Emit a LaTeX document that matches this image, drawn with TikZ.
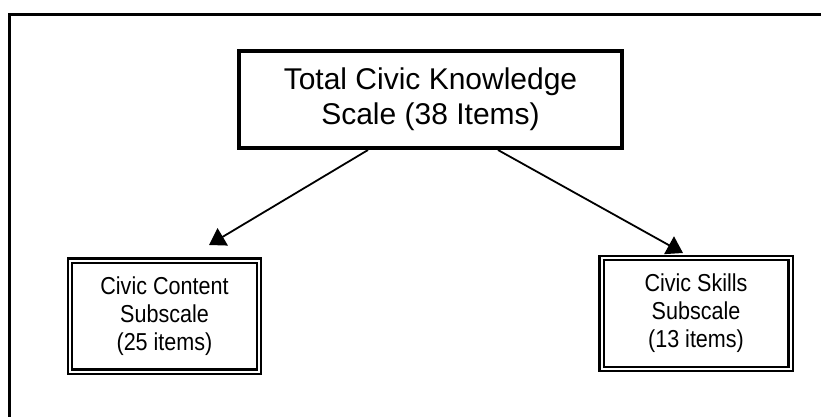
\documentclass[tikz,border=0pt]{standalone}
\usepackage{fontspec}
\setmainfont{Liberation Sans}
\newfontfamily\smallsans[FakeStretch=0.88]{Liberation Sans}
\usetikzlibrary{arrows.meta}
\begin{document}
\begin{tikzpicture}[x=1pt,y=-1pt,
  mainbox/.style={draw, line width=4pt, minimum width=383pt, minimum height=97pt,
    align=center, inner sep=0pt, font=\fontsize{30}{35}\selectfont},
  subbox/.style={draw, double, double distance=2pt, line width=2.2pt,
    minimum width=189pt, minimum height=111pt, align=center, inner sep=0pt,
    font=\smallsans\fontsize{24.5}{28}\selectfont},
  conn/.style={line width=1.8pt, -{Triangle[length=16pt,width=20pt]}}]
\useasboundingbox (0,0) rectangle (821,417);
\draw[line width=3.5pt] (821,14.5) -- (9.5,14.5) -- (9.5,417);
\node[mainbox] (top) at (430.5,99.5) {Total Civic Knowledge\\Scale (38 Items)};
\node[subbox] (left) at (164.5,316) {Civic Content\\Subscale\\(25 items)};
\node[subbox] (right) at (696,313.5) {Civic Skills\\Subscale\\(13 items)};
\coordinate (la) at (209,245);
\coordinate (ra) at (683,253);
\draw[conn] ([xshift=131pt]top.south west) -- (la);
\draw[conn] ([xshift=261pt]top.south west) -- (ra);
\end{tikzpicture}
\end{document}
